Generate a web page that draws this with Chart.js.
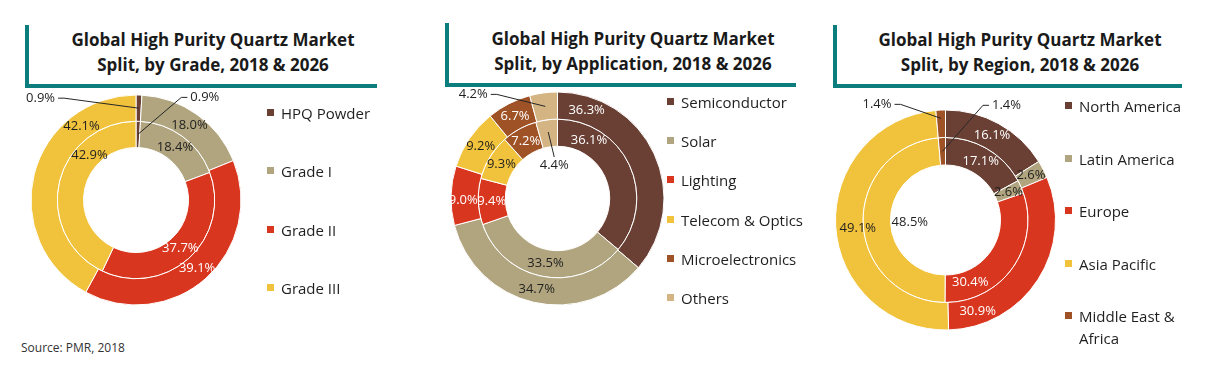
<!DOCTYPE html>
<html>
<head>
<meta charset="utf-8">
<script src="https://cdn.jsdelivr.net/npm/chart.js@4.4.1/dist/chart.umd.min.js"></script>
<style>
  body { margin: 0; width: 1215px; height: 374px; background: #fff; position: relative; overflow: hidden;
         font-family: 'Open Sans', sans-serif; color: #222; }
  .box { position: absolute; border-left: 4px solid #0b7d7d; border-bottom: 4px solid #0b7d7d; box-sizing: border-box; }
  .ttl { position: absolute; width: 400px; text-align: center; font-weight: bold; font-size: 17px; line-height: 25px; color: #1a1a1a; white-space: nowrap; }
  canvas { position: absolute; }
  .leg { position: absolute; font-size: 15px; line-height: 22px; color: #1f1f1f; }
  .leg span { position: absolute; left: 0; top: 7px; width: 7px; height: 7px; }
  .leg div { margin-left: 14px; }
  .src { position: absolute; left: 21px; top: 339px; font-size: 12px; color: #333; }
</style>
</head>
<body>

<div class="box" style="left:25px;top:25px;width:352px;height:63px"></div>
<div class="ttl" style="left:13px;top:27px">Global High Purity Quartz Market<br>Split, by Grade, 2018 &amp; 2026</div>
<div class="box" style="left:445px;top:23px;width:351px;height:64px"></div>
<div class="ttl" style="left:433px;top:26px">Global High Purity Quartz Market<br>Split, by Application, 2018 &amp; 2026</div>
<div class="box" style="left:833px;top:25px;width:349px;height:63px"></div>
<div class="ttl" style="left:820px;top:27px">Global High Purity Quartz Market<br>Split, by Region, 2018 &amp; 2026</div>

<canvas id="gradeChart" width="405" height="250" style="left:0;top:88px"></canvas>
<canvas id="appChart" width="405" height="250" style="left:405px;top:88px"></canvas>
<canvas id="regionChart" width="405" height="260" style="left:810px;top:88px"></canvas>

<div id="gradeLegend"></div>
<div id="appLegend"></div>
<div id="regionLegend"></div>

<div class="src">Source: PMR, 2018</div>

<script>
// outer ring = 2026, inner ring = 2018
const gradeLabels = ['HPQ Powder', 'Grade I', 'Grade II', 'Grade III']
const grade2026 = [0.9, 18.0, 39.1, 42.1]
const grade2018 = [0.9, 18.4, 37.7, 42.9]

const appLabels = ['Semiconductor', 'Solar', 'Lighting', 'Telecom & Optics', 'Microelectronics', 'Others']
const app2026 = [36.3, 34.7, 9.0, 9.2, 6.7, 4.2]
const app2018 = [36.1, 33.5, 9.4, 9.3, 7.2, 4.4]

const regionLabels = ['North America', 'Latin America', 'Europe', 'Asia Pacific', 'Middle East & Africa']
const region2026 = [16.1, 2.6, 30.9, 49.1, 1.4]
const region2018 = [17.1, 2.6, 30.4, 48.5, 1.4]

const brown = '#6b4034', khaki = '#b1a57f', red = '#d9361f', yellow = '#f1c33d', rust = '#9e5226', tan = '#d4b483'
const darkOnes = [brown, red, rust]

var gradeColors = [brown, khaki, red, yellow]
var appColors = [brown, khaki, red, yellow, rust, tan]
var regionColors = [brown, khaki, red, yellow, rust]

// label placement: f = share along the slice, r = share across the ring, dx/dy = callout offset
var gradePlace = [
    [{f: .5, r: .5, dx: -98, dy: -10}, null, null, {f: .76, r: .5}],
    [{f: .5, r: .5, dx: 67, dy: -37}, null, null, {f: .70, r: .45}]
]
var appPlace = [
    [{f: .14, r: .5}, null, {f: .41, r: .55}, null, null, {f: .5, r: .5, dx: -72, dy: -12}],
    [{f: .22, r: .5}, null, null, null, null, {f: .5, r: .55, dx: 6, dy: 33}]
]
var regionPlace = [
    [null, null, {f: .84, r: .52}, {f: .49, r: .2}, {f: .5, r: .7, dx: -64, dy: -14}],
    [null, null, {f: .8, r: .45}, {f: .49, r: -.7}, {f: .5, r: .5, dx: 64, dy: -46}]
]

const pctLabels = {
    id: 'pctLabels',
    afterDatasetsDraw(chart, args, opts) {
        const ctx = chart.ctx
        ctx.save()
        ctx.font = '13px "Open Sans"'
        ctx.textAlign = 'center'
        ctx.textBaseline = 'middle'
        chart.data.datasets.forEach((ds, di) => {
            chart.getDatasetMeta(di).data.forEach((arc, i) => {
                const p = arc.getProps(['x', 'y', 'startAngle', 'endAngle', 'innerRadius', 'outerRadius'])
                const spot = (opts.place[di] && opts.place[di][i]) || {f: .5, r: .5}
                const a = p.startAngle + spot.f * (p.endAngle - p.startAngle)
                const rad = p.innerRadius + spot.r * (p.outerRadius - p.innerRadius)
                const x = p.x + Math.cos(a) * rad
                const y = p.y + Math.sin(a) * rad
                const text = ds.data[i].toFixed(1) + '%'
                if (spot.dx !== undefined) {
                    const lx = x + spot.dx, ly = y + spot.dy
                    const half = ctx.measureText(text).width / 2 + 3
                    ctx.strokeStyle = '#262626'
                    ctx.lineWidth = 1
                    ctx.beginPath()
                    ctx.moveTo(x, y)
                    if (Math.abs(spot.dy) > Math.abs(spot.dx)) {
                        ctx.lineTo(lx, ly - Math.sign(spot.dy) * 8)
                    } else {
                        const ex = lx - Math.sign(spot.dx) * half
                        ctx.lineTo(ex - Math.sign(spot.dx) * 6, ly)
                        ctx.lineTo(ex, ly)
                    }
                    ctx.stroke()
                    ctx.fillStyle = '#1f1f1f'
                    ctx.fillText(text, lx, ly)
                } else {
                    ctx.fillStyle = darkOnes.includes(ds.backgroundColor[i]) ? '#fff' : '#1f1f1f'
                    ctx.fillText(text, x, y)
                }
            })
        })
        ctx.restore()
    }
}

function drawRing(canvas_id, labels, outer, inner, colors, place, pad, cutout) {
    return new Chart(document.getElementById(canvas_id), {
        type: 'doughnut',
        data: {
            labels: labels,
            datasets: [
                {label: '2026', data: outer, backgroundColor: colors, borderColor: '#fff', borderWidth: 1, hoverOffset: 0},
                {label: '2018', data: inner, backgroundColor: colors, borderColor: '#fff', borderWidth: 1, hoverOffset: 0}
            ]
        },
        options: {
            responsive: false,
            animation: false,
            events: [],
            cutout: cutout,
            layout: {padding: pad},
            plugins: {
                legend: {display: false},
                tooltip: {enabled: false},
                pctLabels: {place: place}
            }
        },
        plugins: [pctLabels]
    })
}

function drawLegend(div_id, labels, colors, left, top, step, textWidth) {
    var html = ''
    labels.forEach((label, i) => {
        html += '<div class="leg" style="left:' + left + 'px;top:' + (top + i * step - 11) + 'px">' +
            '<span style="background:' + colors[i] + '"></span><div style="width:' + textWidth + 'px">' +
            label.replace('&', '&amp;') + '</div></div>'
    })
    document.getElementById(div_id).innerHTML = html
}

drawRing('gradeChart', gradeLabels, grade2026, grade2018, gradeColors, gradePlace,
    {left: 30.5, top: 6.5, right: 163.5, bottom: 32.5}, '50%')
drawRing('appChart', appLabels, app2026, app2018, appColors, appPlace,
    {left: 45.5, top: 3.5, right: 145.5, bottom: 32.5}, '49%')
drawRing('regionChart', regionLabels, region2026, region2018, regionColors, regionPlace,
    {left: 25, top: 21.5, right: 159, bottom: 17.5}, '50%')

drawLegend('gradeLegend', gradeLabels, gradeColors, 267, 113, 58.3, 125)
drawLegend('appLegend', appLabels, appColors, 667, 102, 39.2, 135)
drawLegend('regionLegend', regionLabels, regionColors, 1065, 106, 52.5, 110)
</script>
</body>
</html>
